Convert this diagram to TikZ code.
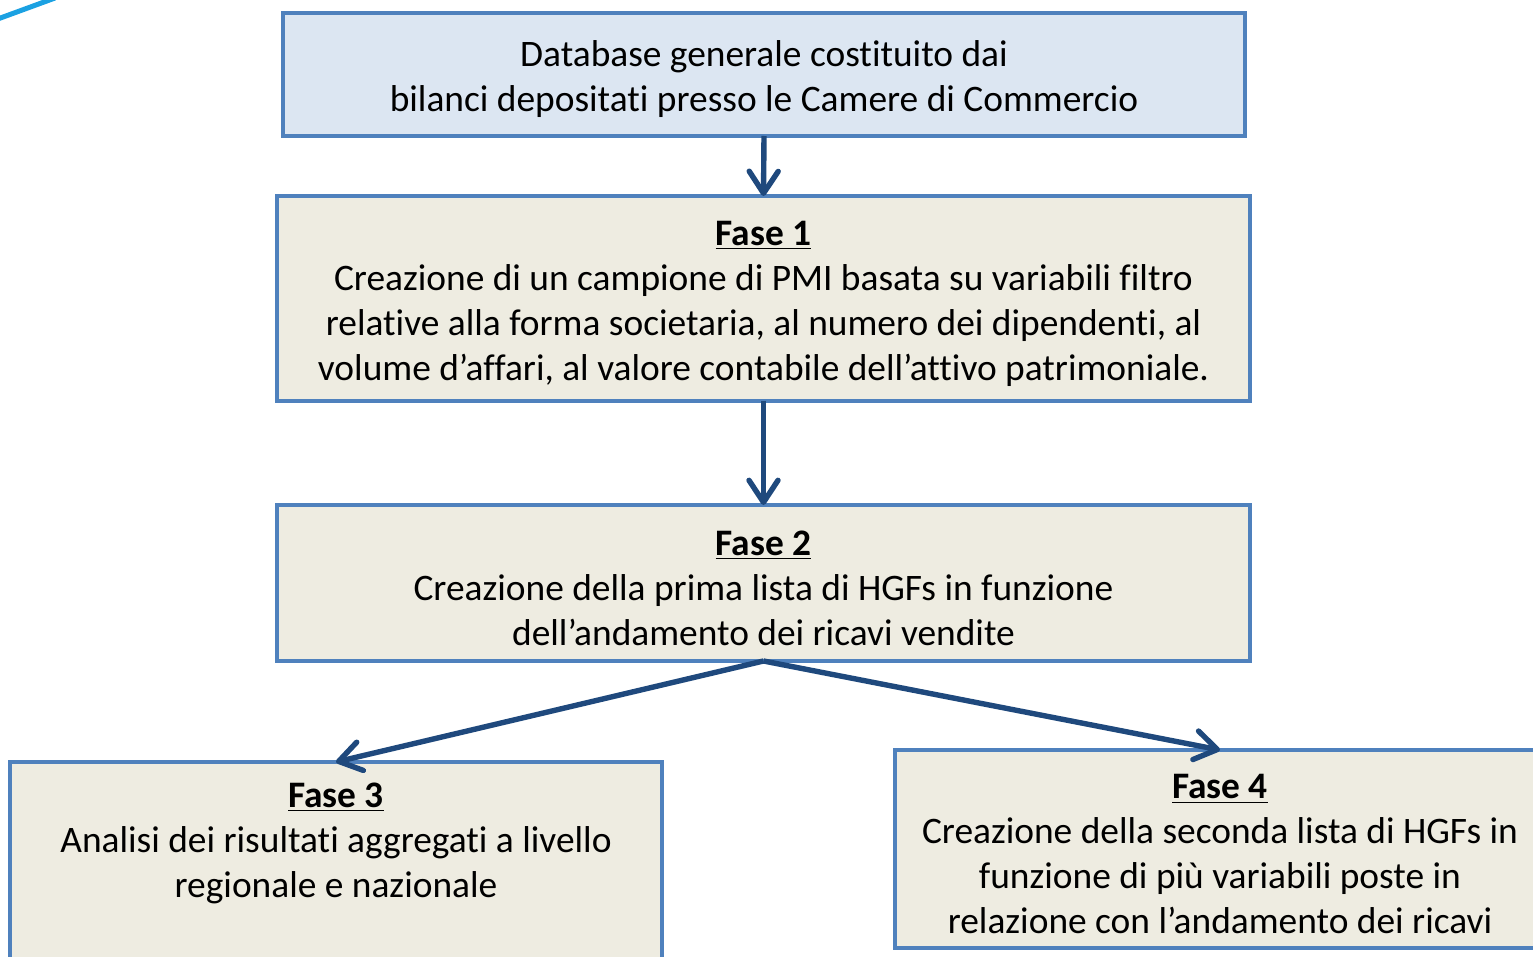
\documentclass[tikz,border=0pt]{standalone}
\usepackage{fontspec}
\setmainfont{Carlito}[Ligatures=NoCommon]
\usetikzlibrary{arrows.meta}
\definecolor{boxline}{HTML}{4F81BD}
\definecolor{topfill}{HTML}{DCE6F2}
\definecolor{phasefill}{HTML}{EEECE1}
\definecolor{arrowc}{HTML}{1F497D}
\definecolor{cyanline}{HTML}{1BA1E2}
\newcommand{\tstrut}{\rule{0pt}{17.5pt}}
\begin{document}
\begin{tikzpicture}[x=0.5pt,y=-0.5pt,
  box/.style={draw=boxline, line width=2pt, align=center, inner sep=0pt, outer sep=0pt,
    font=\fontsize{18.7}{22.5}\selectfont},
  phase/.style={box, fill=phasefill},
  flow/.style={draw=arrowc, line width=2.7pt,
    -{Straight Barb[length=11pt,width=14.5pt,line cap=round,line join=round]}}]
\useasboundingbox (0,0) rectangle (1533,957);
\clip (0,0) rectangle (1533,957);
\draw[cyanline, line width=2.5pt] (-5,20) -- (55,-2);
\node[box, fill=topfill, minimum width=481pt, minimum height=61.5pt] (b0) at (764,74.5)
  {\tstrut Database generale costituito dai\\bilanci depositati presso le Camere di Commercio};
\node[phase, minimum width=486.5pt, minimum height=102.5pt] (b1) at (763.5,298.5)
  {\tstrut\underline{\textbf{Fase 1}}\\Creazione di un campione di PMI basata su variabili filtro\\relative alla forma societaria, al numero dei dipendenti, al\\volume d’affari, al valore contabile dell’attivo patrimoniale.};
\node[phase, minimum width=486.5pt, minimum height=78pt] (b2) at (763.5,583)
  {\tstrut\underline{\textbf{Fase 2}}\\Creazione della prima lista di HGFs in funzione\\dell’andamento dei ricavi vendite};
\node[phase, minimum width=326pt, minimum height=101pt] (b3) at (336,863)
  {\underline{\textbf{Fase 3}}\\Analisi dei risultati aggregati a livello\\regionale e nazionale\\\mbox{}};
\node[phase, minimum width=325pt, minimum height=99pt] (b4) at (1220,849)
  {\tstrut\underline{\textbf{Fase 4}}\\Creazione della seconda lista di HGFs in\\funzione di più variabili poste in\\relazione con l’andamento dei ricavi};
\draw[flow] (b0.south) -- (b1.north);
\draw[flow] (b1.south) -- (b2.north);
\draw[flow] (b2.south) -- (b3.north);
\draw[flow] (b2.south) -- (b4.north);
\end{tikzpicture}
\end{document}
